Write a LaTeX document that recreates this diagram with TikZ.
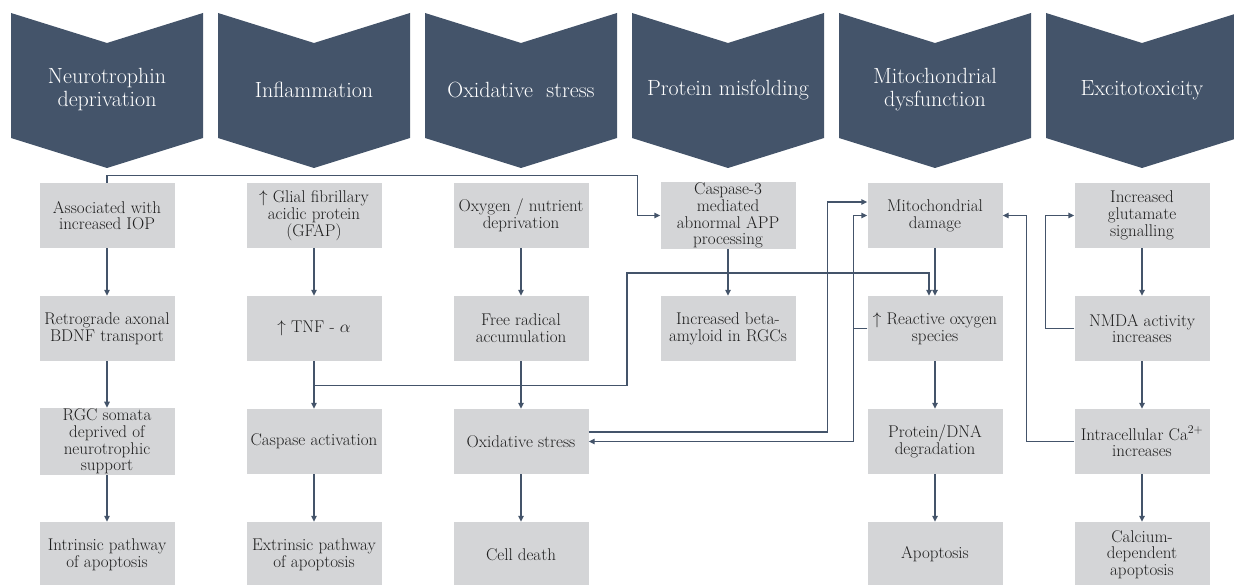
\documentclass[tikz,border=0pt]{standalone}
\usepackage{fix-cm}
\usepackage{fontspec}
\usetikzlibrary{arrows.meta}
\definecolor{slate}{HTML}{44546A}
\definecolor{boxgray}{HTML}{D4D5D7}
\definecolor{ink}{HTML}{1E1E1E}
\begin{document}
\begin{tikzpicture}[x=1pt,y=-1pt,>={Triangle[length=6pt,width=5.5pt]},
  chev/.style={fill=slate},
  head/.style={text=white,align=center,font=\fontsize{22}{23}\selectfont},
  b/.style={fill=boxgray,minimum width=135pt,minimum height=65pt,inner sep=1pt,align=center,text=ink,font=\fontsize{17}{16.7}\selectfont},
  arr/.style={->,draw=slate,line width=1.4pt}]
\useasboundingbox (0,0) rectangle (1234,585);
% chevrons
\fill[chev] (11,13)--(107,43)--(203,13)--(203,138)--(107,168)--(11,138)--cycle;
\node[head] (hNeu) at (107,90) {Neurotrophin\\deprivation};
\fill[chev] (218,13)--(314,43)--(410,13)--(410,138)--(314,168)--(218,138)--cycle;
\node[head] (hInf) at (314,90) {Inflammation};
\fill[chev] (425,13)--(521,43)--(617,13)--(617,138)--(521,168)--(425,138)--cycle;
\node[head] (hOx) at (521,90) {Oxidative\ \ stress};
\fill[chev] (632,13)--(728,43)--(824,13)--(824,138)--(728,168)--(632,138)--cycle;
\node[head] (hProt) at (728,90) {Protein misfolding};
\fill[chev] (839,13)--(935,43)--(1031,13)--(1031,138)--(935,168)--(839,138)--cycle;
\node[head] (hMito) at (935,90) {Mitochondrial\\dysfunction};
\fill[chev] (1046,13)--(1142,43)--(1238,13)--(1238,138)--(1142,168)--(1046,138)--cycle;
\node[head] (hExc) at (1142,90) {Excitotoxicity};
% neurotrophin column
\node[b] (iop) at (107,215.5) {Associated with\\increased IOP};
\node[b] (bdnf) at (107,328.5) {Retrograde axonal\\BDNF transport};
\node[b] (rgc) at (107,441.5) {RGC somata\\deprived\ of\\neurotrophic\\support};
\node[b] (intr) at (107,554.5) {Intrinsic pathway\\of apoptosis};
% inflammation column
\node[b] (gfap) at (314,215.5) {$\uparrow$ Glial fibrillary\\acidic protein\\(GFAP)};
\node[b] (tnf) at (314,328.5) {$\uparrow$ TNF - $\alpha$};
\node[b] (casp) at (314,441.5) {Caspase activation};
\node[b] (extr) at (314,554.5) {Extrinsic pathway\\of apoptosis};
% oxidative stress column
\node[b] (oxy) at (521,215.5) {Oxygen / nutrient\\deprivation};
\node[b] (frad) at (521,328.5) {Free radical\\accumulation};
\node[b] (ostr) at (521,441.5) {Oxidative stress};
\node[b] (death) at (521,554.5) {Cell death};
% protein misfolding column
\node[b] (app) at (728,215.5) {Caspase-3\\mediated\\abnormal APP\\processing};
\node[b] (abeta) at (728,328.5) {Increased beta-\\amyloid in RGCs};
% mitochondrial column
\node[b] (mito) at (935,215.5) {Mitochondrial\\damage};
\node[b] (ros) at (935,328.5) {$\uparrow$ Reactive oxygen\\species};
\node[b] (dna) at (935,441.5) {Protein/DNA\\degradation};
\node[b] (apop) at (935,554.5) {Apoptosis};
% excitotoxicity column
\node[b] (glut) at (1142,215.5) {Increased\\glutamate\\signalling};
\node[b] (nmda) at (1142,328.5) {NMDA activity\\increases};
\node[b] (calc) at (1142,441.5) {Intracellular Ca\textsuperscript{2+}\\increases};
\node[b] (capop) at (1142,554.5) {Calcium-\\dependent\\apoptosis};
% straight arrows
\draw[arr] (iop)--(bdnf); \draw[arr] (bdnf)--(rgc); \draw[arr] (rgc)--(intr);
\draw[arr] (gfap)--(tnf); \draw[arr] (tnf)--(casp); \draw[arr] (casp)--(extr);
\draw[arr] (oxy)--(frad); \draw[arr] (frad)--(ostr); \draw[arr] (ostr)--(death);
\draw[arr] (app)--(abeta);
\draw[arr] (mito)--(ros); \draw[arr] (ros)--(dna); \draw[arr] (dna)--(apop);
\draw[arr] (glut)--(nmda); \draw[arr] (nmda)--(calc); \draw[arr] (calc)--(capop);
% cross links
\draw[arr] (iop.north) -- ++(0,-7) -| ([xshift=-23pt]app.west) -- (app.west);
\draw[arr] ([yshift=-24pt]tnf.south) -| (627,273) -| ([xshift=-6pt]ros.north);
\draw[arr] ([yshift=9.5pt]ostr.east) -| ([xshift=-40pt,yshift=13.5pt]mito.west) -- ([yshift=13.5pt]mito.west);
\draw[arr] (ros.west) -- ++(-14,0) |- (mito.west);
\draw[arr] (ros.west) -- ++(-14,0) |- (ostr.east);
\draw[arr] (nmda.west) -- ++(-29,0) |- (glut.west);
\draw[arr] (calc.west) -- ++(-48,0) |- (mito.east);
\end{tikzpicture}
\end{document}
